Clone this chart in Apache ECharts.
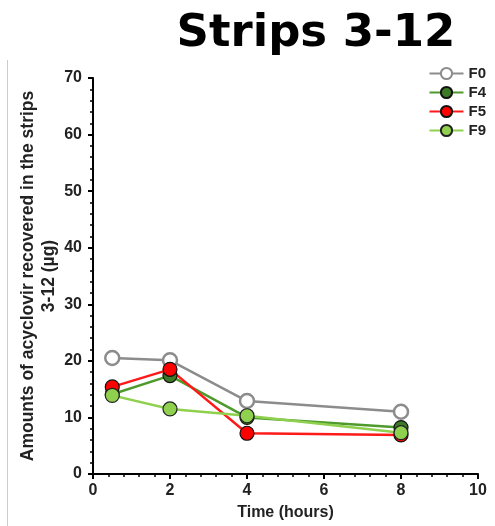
<!DOCTYPE html>
<html>
<head>
<meta charset="utf-8">
<script src="https://cdn.jsdelivr.net/npm/echarts@6/dist/echarts.min.js"></script>
<style>
  html, body { margin: 0; padding: 0; background: #fff; }
  #chart { width: 495px; height: 526px; }
</style>
</head>
<body>
<div id="chart"></div>
<script>
// time points (hours)
const times = [0.5, 2, 4, 8]
// amounts recovered (µg)
const f0 = [20.5, 20.1, 12.9, 11.0]
const f4 = [14.1, 17.4, 10.0, 8.2]
const f5 = [15.4, 18.5, 7.2, 6.9]
const f9 = [13.9, 11.5, 10.3, 7.3]

const pairs = (ys) => times.map((t, i) => [t, ys[i]])

const axisFont = { fontFamily: 'Liberation Sans', fontWeight: 'bold', fontSize: 16, color: '#222' }

function serie(name, data, lineColor, fill, border) {
  return {
    name: name,
    type: 'line',
    data: pairs(data),
    symbol: 'circle',
    symbolSize: 14,
    lineStyle: { color: lineColor, width: 2.5 },
    itemStyle: { color: fill, borderColor: border, borderWidth: name === 'F0' ? 2.5 : 1.2 },
    emphasis: { disabled: true },
    animation: false
  }
}

const chart = echarts.init(document.getElementById('chart'))
chart.setOption({
  title: {
    text: 'Strips 3-12',
    left: 311,
    textAlign: 'center',
    top: 7,
    textStyle: { fontFamily: 'DejaVu Sans', fontWeight: 'bold', fontSize: 45, color: '#000' }
  },
  legend: {
    orient: 'vertical',
    right: 4,
    top: 61,
    itemGap: 4,
    itemWidth: 34,
    itemHeight: 14,
    textStyle: { fontFamily: 'Liberation Sans', fontWeight: 'bold', fontSize: 15, color: '#222' },
    data: ['F0', 'F4', 'F5', 'F9']
  },
  grid: { left: 93, right: 17, top: 78, bottom: 50 },
  xAxis: {
    type: 'value',
    min: 0, max: 10, interval: 2,
    name: 'Time (hours)',
    nameLocation: 'middle',
    nameGap: 31,
    nameMoveOverlap: false,
    nameTextStyle: axisFont,
    axisLine: { lineStyle: { color: '#000', width: 2 } },
    axisTick: { length: 5, lineStyle: { color: '#000', width: 2 } },
    minorTick: { show: true, splitNumber: 5, length: 3, lineStyle: { color: '#000', width: 1.5 } },
    axisLabel: Object.assign({ margin: 9 }, axisFont),
    splitLine: { show: false }
  },
  yAxis: {
    type: 'value',
    min: 0, max: 70, interval: 10,
    name: 'Amounts of acyclovir recovered in the strips\n3-12 (µg)',
    nameLocation: 'middle',
    nameGap: 33,
    nameMoveOverlap: false,
    nameTextStyle: Object.assign({}, axisFont, { fontSize: 17.5, lineHeight: 21 }),
    axisLine: { lineStyle: { color: '#000', width: 2 } },
    axisTick: { length: 5, lineStyle: { color: '#000', width: 2 } },
    minorTick: { show: true, splitNumber: 5, length: 3, lineStyle: { color: '#000', width: 1.5 } },
    axisLabel: Object.assign({ margin: 11 }, axisFont),
    splitLine: { show: false }
  },
  graphic: [{
    type: 'line',
    shape: { x1: 7.5, y1: 60, x2: 7.5, y2: 526 },
    style: { stroke: '#ccc', lineWidth: 1 }
  }],
  series: [
    serie('F0', f0, '#8c8c8c', '#fff', '#8c8c8c'),
    serie('F4', f4, '#4f9a2c', '#3d7a25', '#111'),
    serie('F5', f5, '#ff1a1a', '#ff0000', '#111'),
    serie('F9', f9, '#8fd14f', '#8fd14f', '#222')
  ]
})
</script>
</body>
</html>
